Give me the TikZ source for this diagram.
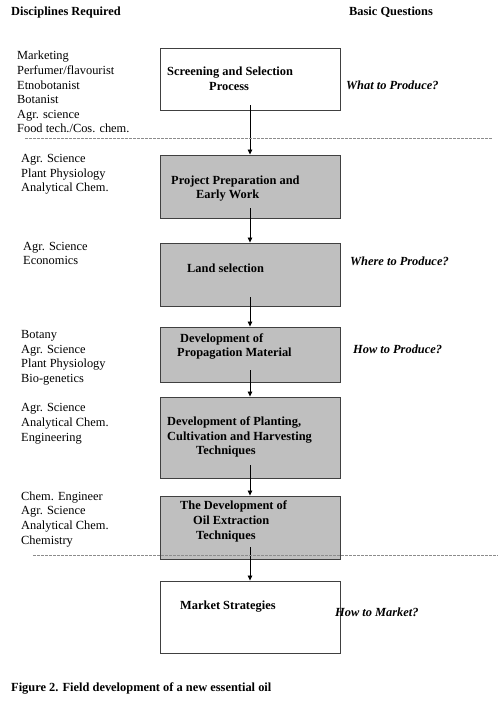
\documentclass[tikz,border=0pt]{standalone}
\usepackage{fontspec}
\setmainfont{Liberation Serif}
\usetikzlibrary{arrows.meta}
\begin{document}
\begin{tikzpicture}[x=1pt,y=-1pt,
  txt/.style={anchor=west,inner sep=0pt,text height=9.5pt,text depth=1.5pt,font=\fontsize{12.4}{14.7}\selectfont},
  btxt/.style={txt,font=\fontsize{12.4}{14.7}\selectfont\bfseries},
  qtxt/.style={txt,font=\fontsize{12.4}{14.7}\selectfont\bfseries\itshape},
  stepbox/.style={draw=black!75,line width=0.9pt,minimum width=180pt,inner sep=0pt,fill=white},
  graybox/.style={stepbox,fill=black!25},
  arr/.style={draw=black,line width=0.8pt,-{Triangle[length=5pt,width=4.5pt]}},
  sep/.style={draw=black!45,line width=0.6pt,dash pattern=on 3pt off 1pt}]
\useasboundingbox (0,0) rectangle (498,712);
% headers
\node[btxt] (h1) at (11,12) {Disciplines Required};
\node[btxt] (h2) at (349,12) {Basic Questions};
% boxes
\node[stepbox,minimum height=62pt] (b1) at (250,79) {};
\node[graybox,minimum height=63pt] (b2) at (250,186.5) {};
\node[graybox,minimum height=63pt] (b3) at (250,274.5) {};
\node[graybox,minimum height=55pt] (b4) at (250,354.5) {};
\node[graybox,minimum height=81pt] (b5) at (250,437.5) {};
\node[graybox,minimum height=63pt] (b6) at (250,527.5) {};
\node[stepbox,minimum height=72pt] (b7) at (250,617) {};
% box texts
\node[btxt] (t1a) at (167,71) {Screening and Selection};
\node[btxt] (t1b) at (209,86) {Process};
\node[btxt] (t2a) at (171,180) {Project Preparation and};
\node[btxt] (t2b) at (196,194) {Early Work};
\node[btxt] (t3a) at (187,268) {Land selection};
\node[btxt] (t4a) at (180,338) {Development of};
\node[btxt] (t4b) at (177,352) {Propagation Material};
\node[btxt] (t5a) at (167,421) {Development of Planting,};
\node[btxt] (t5b) at (167,436) {Cultivation and Harvesting};
\node[btxt] (t5c) at (196,450) {Techniques};
\node[btxt] (t6a) at (180,505) {The Development of};
\node[btxt] (t6b) at (193,520) {Oil Extraction};
\node[btxt] (t6c) at (196,535) {Techniques};
\node[btxt] (t7a) at (180,605) {Market Strategies};
% questions
\node[qtxt] (q1) at (346,85) {What to Produce?};
\node[qtxt] (q2) at (350,261) {Where to Produce?};
\node[qtxt] (q3) at (353,349) {How to Produce?};
\node[qtxt] (q4) at (335,612) {How to Market?};
% disciplines
\node[txt] (d1a) at (17,55) {Marketing};
\node[txt] (d1b) at (17,70) {Perfumer/flavourist};
\node[txt] (d1c) at (17,85) {Etnobotanist};
\node[txt] (d1d) at (17,99) {Botanist};
\node[txt] (d1e) at (17,114) {Agr. science};
\node[txt] (d1f) at (17,128) {Food tech./Cos. chem.};
\node[txt] (d2a) at (21,158) {Agr. Science};
\node[txt] (d2b) at (21,173) {Plant Physiology};
\node[txt] (d2c) at (21,187) {Analytical Chem.};
\node[txt] (d3a) at (23,246) {Agr. Science};
\node[txt] (d3b) at (23,260) {Economics};
\node[txt] (d4a) at (21,334) {Botany};
\node[txt] (d4b) at (21,349) {Agr. Science};
\node[txt] (d4c) at (21,363) {Plant Physiology};
\node[txt] (d4d) at (21,378) {Bio-genetics};
\node[txt] (d5a) at (21,407) {Agr. Science};
\node[txt] (d5b) at (21,422) {Analytical Chem.};
\node[txt] (d5c) at (21,437) {Engineering};
\node[txt] (d6a) at (21,496) {Chem. Engineer};
\node[txt] (d6b) at (21,510) {Agr. Science};
\node[txt] (d6c) at (21,525) {Analytical Chem.};
\node[txt] (d6d) at (21,540) {Chemistry};
% caption
\node[btxt] (cap) at (11,687) {Figure 2. Field development of a new essential oil};
% arrows
\draw[arr] ([yshift=5pt]b1.south) -- (b2.north);
\draw[arr] ([yshift=10pt]b2.south) -- (b3.north);
\draw[arr] ([yshift=9pt]b3.south) -- (b4.north);
\draw[arr] ([yshift=12pt]b4.south) -- (b5.north);
\draw[arr] ([yshift=13pt]b5.south) -- (b6.north);
\draw[arr] ([yshift=12pt]b6.south) -- (b7.north);
% dashed separators
\coordinate (s1a) at (25,138); \coordinate (s1b) at (493,138);
\coordinate (s2a) at (33,555); \coordinate (s2b) at (498,555);
\draw[sep] (s1a) -- (s1b);
\draw[sep] (s2a) -- (s2b);
\end{tikzpicture}
\end{document}
